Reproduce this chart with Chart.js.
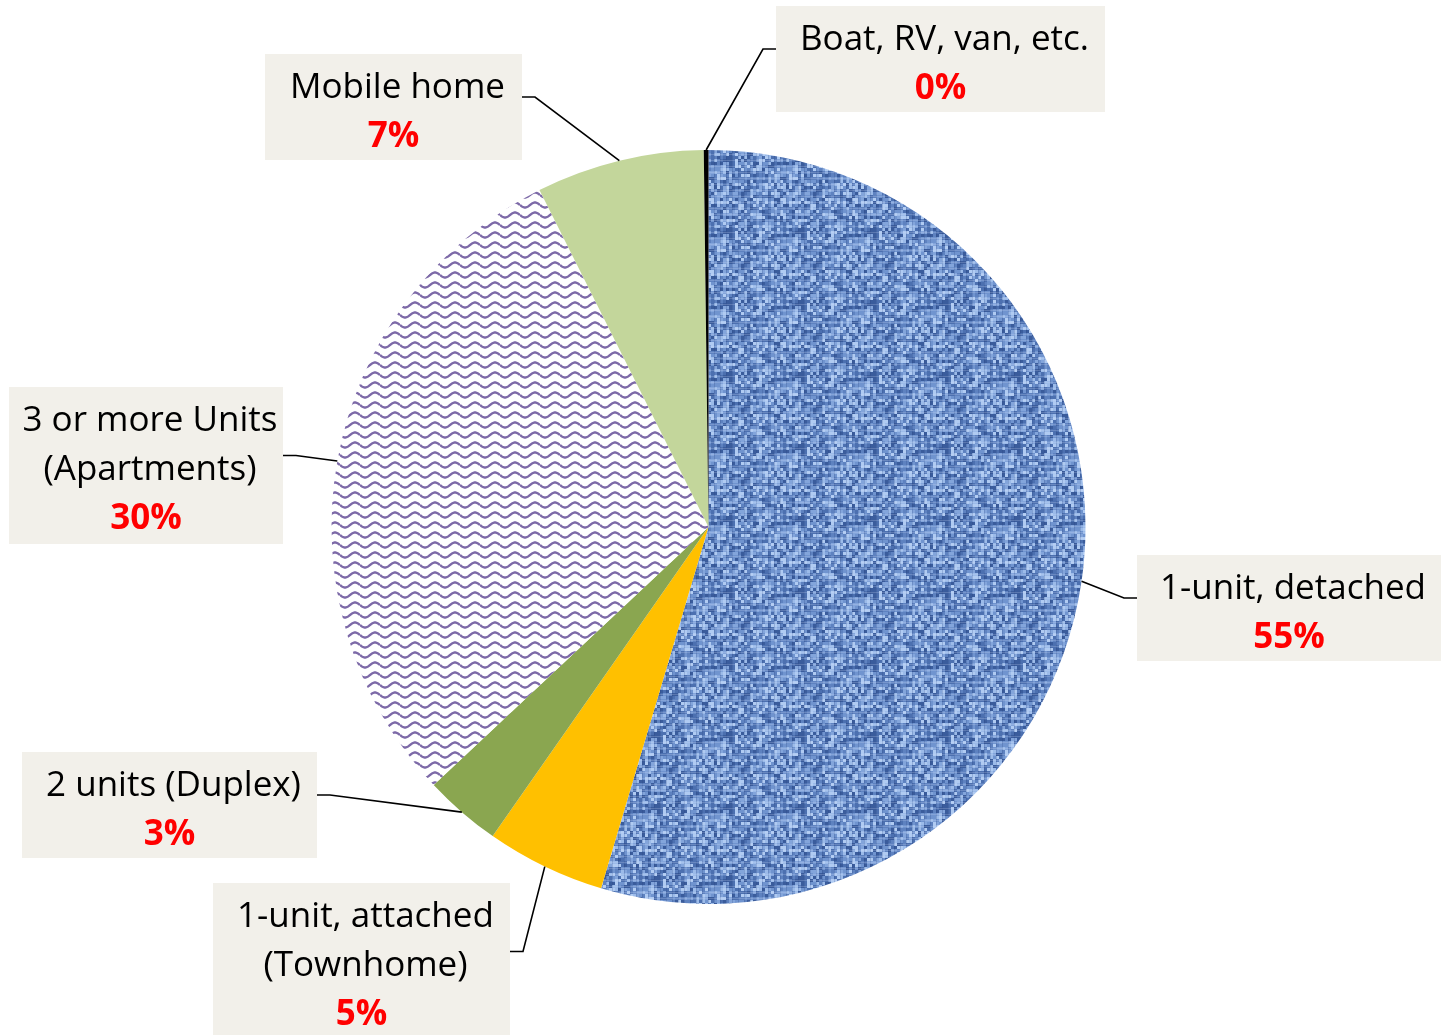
<!DOCTYPE html>
<html>
<head>
<meta charset="utf-8">
<title>Housing type</title>
<script src="https://cdn.jsdelivr.net/npm/chart.js@4.4.1/dist/chart.umd.min.js"></script>
<style>
    html, body { margin: 0; padding: 0; background: #ffffff; }
    #wrap { width: 1441px; height: 1035px; position: relative; }
</style>
</head>
<body>
<div id="wrap"><canvas id="myChart"></canvas></div>
<script>
// data, clockwise from 12 o'clock
const categories = [
    ["1-unit, detached"],
    ["1-unit, attached", "(Townhome)"],
    ["2 units (Duplex)"],
    ["3 or more Units", "(Apartments)"],
    ["Mobile home"],
    ["Boat, RV, van, etc."],
];
const shares = [54.6, 5.1, 3.3, 29.6, 7.2, 0.2];

// label box placement (layout only)
const boxes = [
    { x: 1137, y: 555, w: 304, h: 106 },
    { x: 213, y: 883, w: 297, h: 157 },
    { x: 22, y: 752, w: 295, h: 106 },
    { x: 9, y: 387, w: 274, h: 157 },
    { x: 265, y: 54, w: 257, h: 106 },
    { x: 776, y: 6, w: 329, h: 106 },
];

const FONT = "'Open Sans', 'Liberation Sans', sans-serif";

// blue woven texture, deterministic hash so it's the same every render
const makeCloth = () => {
    const c = document.createElement("canvas");
    c.width = 72; c.height = 72;
    const g = c.getContext("2d");
    const shades = ["#3a5c9c", "#4c70b0", "#5e82c0", "#7094cf", "#83a5db", "#9cbbe9", "#b0cbf2"];
    const hash = (x, y) => {
        let h = (x * 374761393 + y * 668265263) | 0;
        h = Math.imul(h ^ (h >>> 13), 1274126177);
        h = h ^ (h >>> 16);
        return (h >>> 0) / 4294967296;
    };
    for (let y = 0; y < 72; y += 3) {
        for (let x = 0; x < 72; x += 3) {
            const v = hash(x / 3, y / 3);
            const idx = Math.min(shades.length - 1, Math.floor(v * shades.length));
            g.fillStyle = shades[idx];
            g.fillRect(x, y, 3, 3);
        }
    }
    // threads
    g.fillStyle = "rgba(35,65,125,0.22)";
    for (let x = 0; x < 72; x += 6) g.fillRect(x, 0, 1, 72);
    g.fillStyle = "rgba(210,225,250,0.22)";
    for (let y = 4; y < 72; y += 6) g.fillRect(0, y, 72, 1);
    return g.createPattern(c, "repeat");
};

// white with purple wavy lines
const makeWaves = () => {
    const c = document.createElement("canvas");
    c.width = 20; c.height = 10;
    const g = c.getContext("2d");
    g.fillStyle = "#ffffff";
    g.fillRect(0, 0, 20, 10);
    g.strokeStyle = "#7d6aa8";
    g.lineWidth = 2.4;
    g.beginPath();
    for (let x = 0; x <= 20; x += 0.5) {
        const y = 5 + 2.5 * Math.sin((x / 20) * Math.PI * 2);
        if (x === 0) g.moveTo(x, y); else g.lineTo(x, y);
    }
    g.stroke();
    return g.createPattern(c, "repeat");
};

const calloutPlugin = {
    id: "callouts",
    afterDatasetsDraw(chart) {
        const ctx = chart.ctx;
        const meta = chart.getDatasetMeta(0);
        const total = shares.reduce((a, b) => a + b, 0);
        meta.data.forEach((arc, i) => {
            const p = arc.getProps(["x", "y", "startAngle", "endAngle", "outerRadius"], true);
            const mid = (p.startAngle + p.endAngle) / 2;
            const ax = p.x + Math.cos(mid) * p.outerRadius;
            const ay = p.y + Math.sin(mid) * p.outerRadius;
            const b = boxes[i];
            const onRight = b.x > ax;
            const edgeX = onRight ? b.x : b.x + b.w;
            const elbowX = onRight ? edgeX - 13 : edgeX + 13;
            const ly = b.y + b.h / 2 - 10;

            ctx.save();
            // box
            ctx.fillStyle = "#f2f0ea";
            ctx.fillRect(b.x, b.y, b.w, b.h);
            // leader
            ctx.strokeStyle = "#000000";
            ctx.lineWidth = 1.6;
            ctx.beginPath();
            ctx.moveTo(ax, ay);
            ctx.lineTo(elbowX, ly);
            ctx.lineTo(edgeX, ly);
            ctx.stroke();
            // text
            const cx = b.x + b.w / 2 + 4;
            let base = b.y + 44;
            ctx.textAlign = "center";
            ctx.textBaseline = "alphabetic";
            ctx.fillStyle = "#000000";
            ctx.font = "35px " + FONT;
            categories[i].forEach((line) => {
                ctx.fillText(line, cx, base);
                base += 49;
            });
            ctx.fillStyle = "#ff0000";
            ctx.font = "bold 35px " + FONT;
            ctx.fillText(Math.round((shares[i] / total) * 100) + "%", cx - 4, base);
            ctx.restore();
        });
    },
};

const initChart = () => {
    const ctx = document.getElementById("myChart").getContext("2d");
    const fills = [
        makeCloth(),
        "#ffc000",
        "#8aa650",
        makeWaves(),
        "#c3d69b",
        "#000000",
    ];

    new Chart(ctx, {
        type: "pie",
        data: {
            labels: categories,
            datasets: [
                {
                    data: shares,
                    backgroundColor: fills,
                    borderWidth: 0,
                },
            ],
        },
        options: {
            responsive: true,
            maintainAspectRatio: false,
            animation: false,
            layout: {
                padding: { left: 331, right: 355, top: 150, bottom: 131 },
            },
            plugins: {
                legend: { display: false },
                tooltip: { enabled: false },
            },
        },
        plugins: [calloutPlugin],
    });
};

document.addEventListener("DOMContentLoaded", initChart);
</script>
</body>
</html>
